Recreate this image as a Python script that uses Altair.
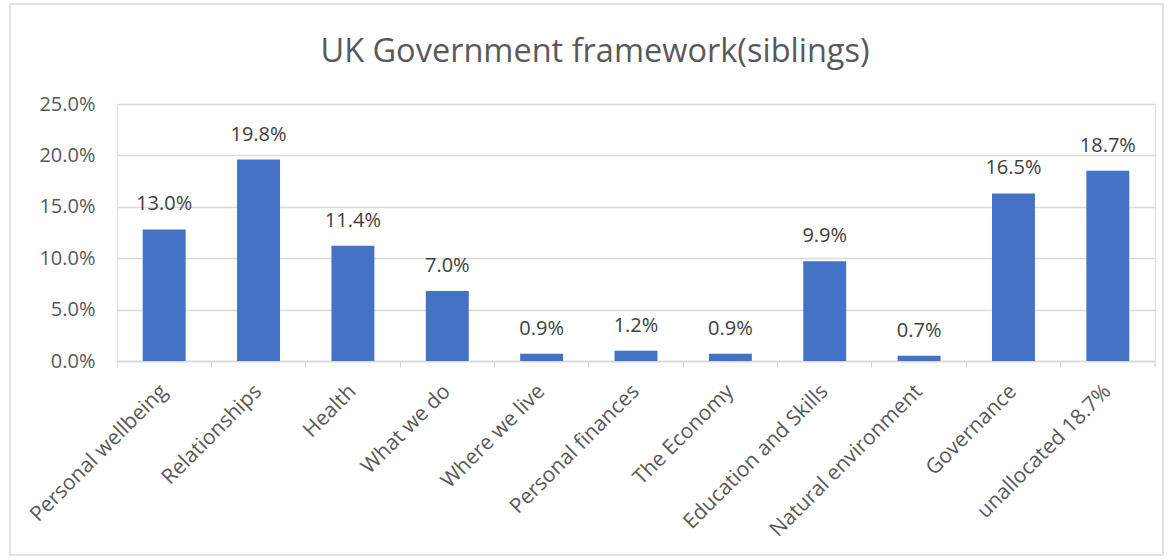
import altair as alt
import pandas as pd

categories = ["Personal wellbeing", "Relationships", "Health", "What we do",
              "Where we live", "Personal finances", "The Economy",
              "Education and Skills", "Natural environment", "Governance",
              "unallocated 18.7%"]
bar_values = [0.128, 0.196, 0.112, 0.068, 0.007, 0.010, 0.007, 0.097, 0.005, 0.163, 0.185]
label_texts = ["13.0%", "19.8%", "11.4%", "7.0%", "0.9%", "1.2%", "0.9%", "9.9%", "0.7%", "16.5%", "18.7%"]
y_ticks = [0.0, 0.05, 0.10, 0.15, 0.20, 0.25]

df = pd.DataFrame({"cat": categories, "value": bar_values, "label": label_texts})

W, H = 1038, 257
FONT = "Open Sans"
GREY = "#595959"
FS = 20

x_enc = alt.X("cat:N", sort=categories,
              scale=alt.Scale(paddingInner=0, paddingOuter=0),
              axis=alt.Axis(title=None, labelAngle=-45, labelAlign="right",
                            labelBaseline="middle", labelFontSize=21,
                            labelFont=FONT, labelColor=GREY, labelPadding=21,
                            tickSize=6, tickColor="#d9d9d9", bandPosition=0,
                            domainColor="#d9d9d9", domainWidth=1.5,
                            labelLimit=300))
y_enc = alt.Y("value:Q", scale=alt.Scale(domain=[0, 0.25], nice=False),
              axis=alt.Axis(title=None, values=y_ticks, format=".1%",
                            domain=False, ticks=False, grid=True,
                            gridColor="#d9d9d9", gridWidth=1.5,
                            labelFontSize=FS, labelFont=FONT,
                            labelColor=GREY, labelPadding=22))

base = alt.Chart(df)

bars = base.mark_bar(color="#4472C4", width=alt.RelativeBandSize(0.455)).encode(
    x=x_enc, y=y_enc)

labels = base.mark_text(font=FONT, fontSize=FS, color="#404040",
                        baseline="alphabetic", dy=-19).encode(
    x=alt.X("cat:N", sort=categories), y="value:Q", text="label:N")

end_tick = alt.Chart(pd.DataFrame({"a": [0]})).mark_rule(color="#d9d9d9", strokeWidth=1.5).encode(
    x=alt.value(W), y=alt.value(H), y2=alt.value(H + 6))

border = alt.Chart(pd.DataFrame({"a": [0]})).mark_rect(
    fill=None, stroke="#d9d9d9", strokeWidth=1.5).encode(
    x=alt.value(10 - 117), x2=alt.value(1163 - 117),
    y=alt.value(4 - 104), y2=alt.value(555 - 104))

title = alt.Chart(pd.DataFrame({"t": ["UK Government framework(siblings)"]})).mark_text(
    font=FONT, fontSize=32.5, color=GREY, baseline="middle", align="center").encode(
    x=alt.value(595 - 117), y=alt.value(52 - 104), text="t:N")

chart = alt.layer(border, bars, labels, end_tick, title).properties(
    width=W, height=H,
    autosize=alt.AutoSizeParams(type="none"),
    padding={"left": 117, "top": 104, "right": 1173 - 117 - W, "bottom": 560 - 104 - H},
).configure_view(stroke=None).configure(background="white")

chart.save("out.html", embed_options={"renderer": "svg", "actions": False})
